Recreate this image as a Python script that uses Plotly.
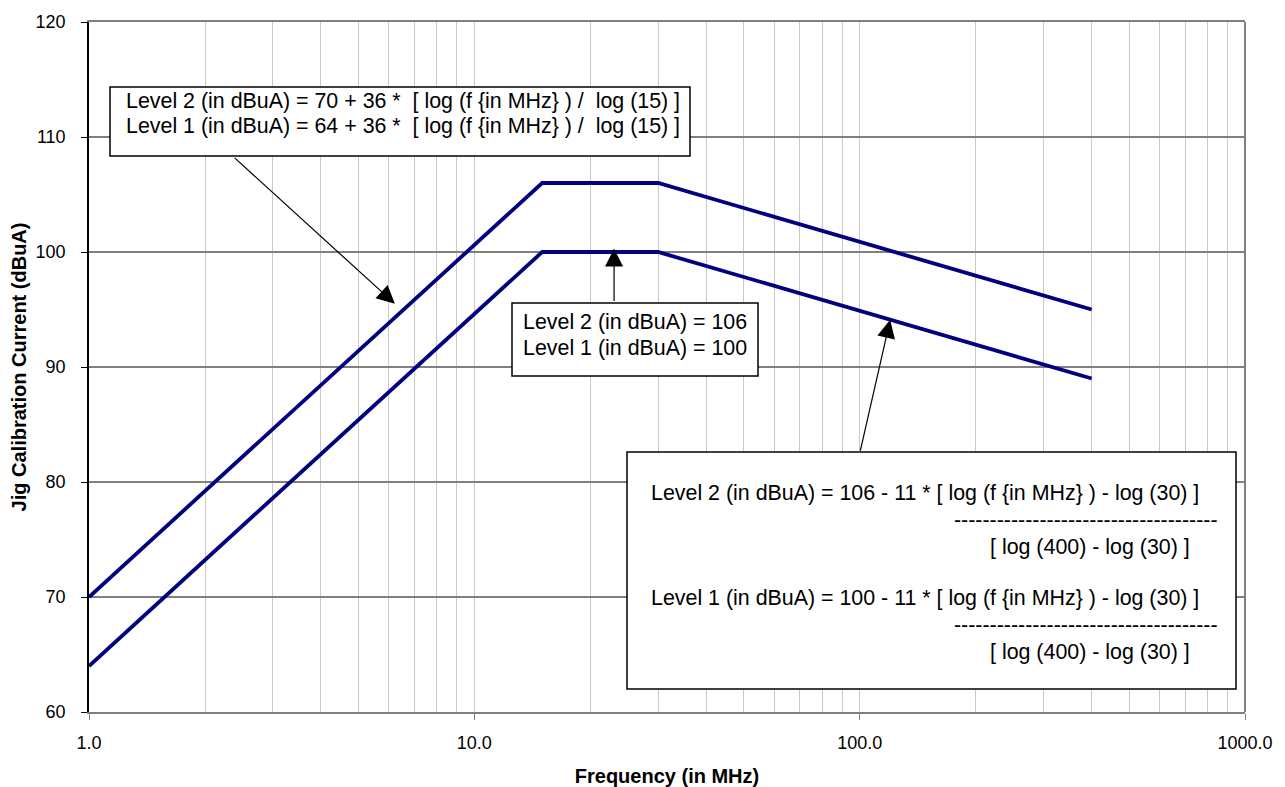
import math
import plotly.graph_objects as go

# ---- data ----
freq_mhz = [1, 15, 30, 400]
level2_dbua = [70, 106, 106, 95]
level1_dbua = [64, 100, 100, 89]

x_tick_vals = [1, 10, 100, 1000]
x_tick_text = ["1.0", "10.0", "100.0", "1000.0"]
y_tick_vals = [60, 70, 80, 90, 100, 110, 120]

x_title = "Frequency (in MHz)"
y_title = "Jig Calibration Current (dBuA)"

box1_lines = [
    "Level 2 (in dBuA) = 70 + 36 *  [ log (f {in MHz} ) /  log (15) ]",
    "Level 1 (in dBuA) = 64 + 36 *  [ log (f {in MHz} ) /  log (15) ]",
]
box2_lines = ["Level 2 (in dBuA) = 106", "Level 1 (in dBuA) = 100"]
box3_num = [
    "Level 2 (in dBuA) = 106 - 11 * [ log (f {in MHz} ) - log (30) ]",
    "Level 1 (in dBuA) = 100 - 11 * [ log (f {in MHz} ) - log (30) ]",
]
box3_bar = "-" * 37
box3_den = "[ log (400) - log (30) ]"

FONT = "Arial, 'Liberation Sans', sans-serif"
NAVY = "#000080"
TXT = 21.4

fig = go.Figure()
fig.add_trace(go.Scatter(x=freq_mhz, y=level2_dbua, mode="lines",
                         line=dict(color=NAVY, width=3.8), name="Level 2"))
fig.add_trace(go.Scatter(x=freq_mhz, y=level1_dbua, mode="lines",
                         line=dict(color=NAVY, width=3.8), name="Level 1"))

# plot-area geometry in pixels (for placing callouts)
L, R, T, B = 89, 1245, 22, 712
def px(x):
    return (x - L) / (R - L)
def py(y):
    return (B - y) / (B - T)

shapes = []
def box(x0, y0, x1, y1):
    shapes.append(dict(type="rect", xref="paper", yref="paper",
                       x0=px(x0), x1=px(x1), y0=py(y1), y1=py(y0),
                       line=dict(color="black", width=1.5), fillcolor="white",
                       layer="above"))

box(110, 87, 690, 156)
box(512, 303, 758, 376)
box(627, 452, 1236, 689)
# right border of plot area
shapes.append(dict(type="line", xref="paper", yref="paper", x0=1, x1=1, y0=0, y1=1,
                   line=dict(color="#808080", width=2), layer="above"))

annotations = []
def text(t, x, y):
    annotations.append(dict(text=t, xref="paper", yref="paper", x=px(x), y=py(y),
                            xanchor="left", yanchor="middle", showarrow=False,
                            font=dict(family=FONT, size=TXT, color="black")))

text(box1_lines[0], 124, 101)
text(box1_lines[1], 124, 126)
text(box2_lines[0], 521, 322)
text(box2_lines[1], 521, 348)
text(box3_num[0], 649, 493)
text(box3_bar, 952, 520)
text(box3_den, 988, 547)
text(box3_num[1], 649, 598)
text(box3_bar, 952, 625)
text(box3_den, 988, 652)

def arrow(tip_f, tip_y, tail_f, tail_y):
    annotations.append(dict(x=math.log10(tip_f), y=tip_y, xref="x", yref="y",
                            ax=math.log10(tail_f), ay=tail_y, axref="x", ayref="y",
                            text="", showarrow=True, arrowhead=2, arrowsize=3,
                            arrowwidth=1.2, arrowcolor="black", standoff=0))

arrow(6.22, 95.5, 2.366, 108.3)
arrow(23.05, 100.3, 23.05, 95.6)
arrow(120, 94.1, 100.2, 82.6)

fig.update_layout(
    width=1285, height=787,
    margin=dict(l=L, r=1285 - R, t=T, b=787 - B, autoexpand=False),
    paper_bgcolor="white", plot_bgcolor="white",
    showlegend=False,
    font=dict(family=FONT, color="black"),
    shapes=shapes, annotations=annotations,
)
fig.update_xaxes(
    type="log", range=[0, 3], automargin=False,
    tickvals=x_tick_vals, ticktext=x_tick_text,
    tickfont=dict(size=18, family=FONT, color="black"),
    ticks="outside", ticklen=6, tickcolor="#808080", tickwidth=1,
    ticklabelstandoff=7,
    showgrid=True, gridcolor="#c8c8c8", gridwidth=1,
    minor=dict(dtick="D1", showgrid=True, gridcolor="#c8c8c8", gridwidth=1, ticks=""),
    showline=True, linecolor="#808080", linewidth=2, mirror=True,
    zeroline=False,
    title=dict(text="<b>" + x_title + "</b>", font=dict(size=20, family=FONT, color="black"),
               standoff=22),
)
fig.update_yaxes(
    range=[60, 120], tickvals=y_tick_vals, automargin=False,
    tickfont=dict(size=18, family=FONT, color="black"),
    ticks="outside", ticklen=6, tickcolor="black", tickwidth=1,
    ticklabelstandoff=12,
    showgrid=True, gridcolor="#808080", gridwidth=1.5,
    showline=True, linecolor="black", linewidth=1.5,
    zeroline=False,
    title=dict(text="<b>" + y_title + "</b>", font=dict(size=20, family=FONT, color="black"),
               standoff=4),
)

fig.write_html("out.html", config={"displayModeBar": False},
               post_script="document.body.style.margin='0';document.body.style.overflow='hidden';")
